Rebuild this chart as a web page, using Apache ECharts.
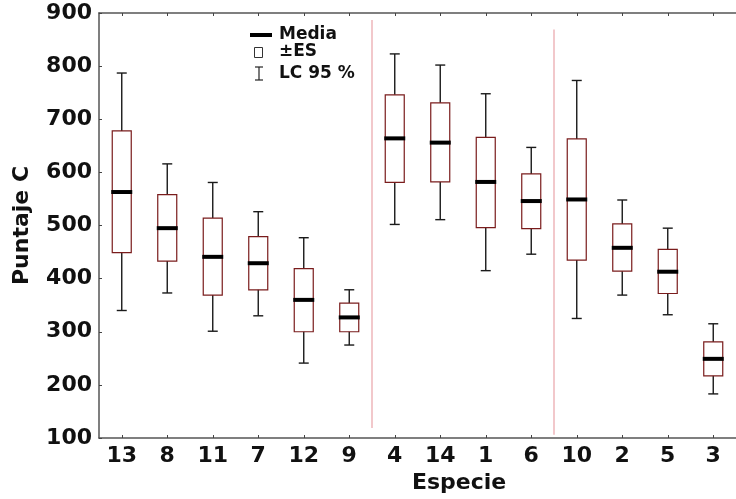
<!DOCTYPE html>
<html>
<head>
<meta charset="utf-8">
<script src="https://cdn.jsdelivr.net/npm/echarts@6/dist/echarts.min.js"></script>
<style>
  html, body { margin: 0; padding: 0; background: #fff; }
  #chart { width: 736px; height: 499px; }
</style>
</head>
<body>
<div id="chart"></div>
<script>
// species on the x axis, left to right
const species = ['13', '8', '11', '7', '12', '9', '4', '14', '1', '6', '10', '2', '5', '3']
// mean (black bar)
const media = [563, 495, 441, 429, 360, 327, 664, 656, 582, 546, 549, 458, 413, 249]
// mean ± standard error (box)
const esHigh = [678, 558, 514, 479, 419, 354, 746, 731, 666, 597, 663, 503, 455, 281]
const esLow = [449, 433, 369, 379, 300, 300, 581, 582, 496, 494, 435, 414, 372, 217]
// 95% confidence limits (whiskers)
const lcHigh = [787, 616, 581, 526, 477, 379, 823, 802, 748, 647, 773, 548, 495, 315]
const lcLow = [340, 373, 301, 330, 241, 275, 502, 511, 415, 446, 325, 369, 332, 183]
// group separators: category index they follow, top and bottom values
const sepAfter = [5, 9]
const sepTop = [887, 869]
const sepBottom = [119, 106]

const yTicks = [100, 200, 300, 400, 500, 600, 700, 800, 900]

const boxData = species.map((s, i) => [i, lcLow[i], esLow[i], media[i], esHigh[i], lcHigh[i]])
const sepData = sepAfter.map((k, i) => [k, sepBottom[i], sepTop[i]])

const font = 'DejaVu Sans'
const chart = echarts.init(document.getElementById('chart'))

function renderBox(params, api) {
  const idx = api.value(0)
  const x = api.coord([idx, 0])[0]
  const yLcLow = api.coord([idx, api.value(1)])[1]
  const yEsLow = api.coord([idx, api.value(2)])[1]
  const yMed = api.coord([idx, api.value(3)])[1]
  const yEsHigh = api.coord([idx, api.value(4)])[1]
  const yLcHigh = api.coord([idx, api.value(5)])[1]
  const boxW = 19, capW = 10, medW = 21
  const whisker = { stroke: '#1a1a1a', lineWidth: 1.4 }
  return {
    type: 'group',
    children: [
      { type: 'line', shape: { x1: x, y1: yLcHigh, x2: x, y2: yLcLow }, style: whisker },
      { type: 'line', shape: { x1: x - capW / 2, y1: yLcHigh, x2: x + capW / 2, y2: yLcHigh }, style: whisker },
      { type: 'line', shape: { x1: x - capW / 2, y1: yLcLow, x2: x + capW / 2, y2: yLcLow }, style: whisker },
      {
        type: 'rect',
        shape: { x: x - boxW / 2, y: yEsHigh, width: boxW, height: yEsLow - yEsHigh },
        style: { fill: '#fff', stroke: '#7a1c1c', lineWidth: 1.2 }
      },
      {
        type: 'rect',
        shape: { x: x - medW / 2, y: yMed - 2, width: medW, height: 4 },
        style: { fill: '#000' }
      }
    ]
  }
}

function renderSep(params, api) {
  const idx = api.value(0)
  const x = api.coord([idx, 0])[0] + api.size([1, 0])[0] / 2
  const y1 = api.coord([idx, api.value(1)])[1]
  const y2 = api.coord([idx, api.value(2)])[1]
  return {
    type: 'line',
    shape: { x1: x, y1: y1, x2: x, y2: y2 },
    style: { stroke: '#eaa3a8', lineWidth: 1.2 }
  }
}

const axisLine = { show: true, lineStyle: { color: '#555', width: 1.5 } }

const option = {
  backgroundColor: '#fff',
  animation: false,
  grid: { left: 99, top: 13, width: 643, height: 425 },
  xAxis: [
    {
      type: 'category',
      data: species,
      boundaryGap: true,
      axisLine: axisLine,
      axisTick: { show: true, inside: true, alignWithLabel: true, length: 3, lineStyle: { color: '#444' } },
      axisLabel: { color: '#111', fontFamily: font, fontWeight: 'bold', fontSize: 22, margin: 7 },
      splitLine: { show: false }
    },
    {
      type: 'category',
      position: 'top',
      data: species,
      boundaryGap: true,
      axisLine: axisLine,
      axisTick: { show: true, inside: true, alignWithLabel: true, length: 3, lineStyle: { color: '#444' } },
      axisLabel: { show: false },
      splitLine: { show: false }
    }
  ],
  yAxis: {
    type: 'value',
    min: yTicks[0],
    max: yTicks[yTicks.length - 1],
    interval: 100,
    name: 'Puntaje C',
    nameLocation: 'middle',
    nameGap: 66,
    nameTextStyle: { color: '#111', fontFamily: font, fontWeight: 'bold', fontSize: 22 },
    axisLine: axisLine,
    axisTick: { show: true, inside: true, length: 3, lineStyle: { color: '#444' } },
    axisLabel: { color: '#111', fontFamily: font, fontWeight: 'bold', fontSize: 22, margin: 7, padding: [8, 0, 0, 0] },
    splitLine: { show: false }
  },
  graphic: [
    {
      type: 'text', left: 412, top: 472,
      style: { text: 'Especie', fill: '#111', font: 'bold 22px "DejaVu Sans"' }
    },
    // legend
    { type: 'line', shape: { x1: 250, y1: 35, x2: 272, y2: 35 }, style: { stroke: '#000', lineWidth: 4 } },
    { type: 'rect', shape: { x: 254.5, y: 47.5, width: 8, height: 10 }, style: { fill: 'none', stroke: '#333', lineWidth: 1 } },
    { type: 'line', shape: { x1: 259, y1: 67, x2: 259, y2: 80 }, style: { stroke: '#222', lineWidth: 1.2 } },
    { type: 'line', shape: { x1: 255, y1: 67, x2: 263, y2: 67 }, style: { stroke: '#222', lineWidth: 1.2 } },
    { type: 'line', shape: { x1: 255, y1: 80, x2: 263, y2: 80 }, style: { stroke: '#222', lineWidth: 1.2 } },
    { type: 'text', x: 279, y: 35, style: { text: 'Media', fill: '#111', font: 'bold 17px "DejaVu Sans"', verticalAlign: 'middle' } },
    { type: 'text', x: 279, y: 52, style: { text: '±ES', fill: '#111', font: 'bold 17px "DejaVu Sans"', verticalAlign: 'middle' } },
    { type: 'text', x: 279, y: 74, style: { text: 'LC 95 %', fill: '#111', font: 'bold 17px "DejaVu Sans"', verticalAlign: 'middle' } }
  ],
  series: [
    {
      type: 'custom',
      renderItem: renderSep,
      data: sepData,
      encode: { x: 0, y: [1, 2] },
      z: 1
    },
    {
      type: 'custom',
      renderItem: renderBox,
      data: boxData,
      encode: { x: 0, y: [1, 2, 3, 4, 5] },
      z: 2
    }
  ]
}

chart.setOption(option)
</script>
</body>
</html>
